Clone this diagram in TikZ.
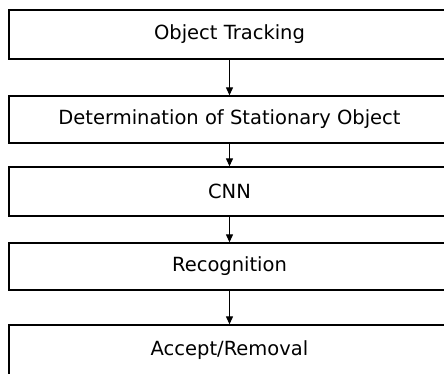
\documentclass[tikz,border=0pt]{standalone}
\usepackage{fontspec}
\setmainfont{DejaVu Sans}
\usetikzlibrary{arrows.meta}
\begin{document}
\begin{tikzpicture}
  [x=1pt, y=1pt,
  stage/.style={rectangle, draw, line width=1.3pt, minimum width=441pt,
    inner sep=0pt, font=\fontsize{19.5}{23}\selectfont},
  flow/.style={-{Triangle[length=8pt,width=7pt]}, line width=1.1pt}]

  \useasboundingbox (0,0) rectangle (444,374);

  % the five stages, top to bottom
  \node[stage, minimum height=49pt] (track) at (229.5,339.5) {Object Tracking};
  \node[stage, minimum height=47pt] (still) at (229.5,254.5) {Determination of Stationary Object};
  \node[stage, minimum height=49pt] (cnn)   at (229.5,182.5) {CNN};
  \node[stage, minimum height=47pt] (recog) at (229.5,107.5) {Recognition};
  \node[stage, minimum height=50pt] (decide) at (229.5,24) {Accept/Removal};

  % arrows between stages
  \draw[flow] (track) -- (still);
  \draw[flow] (still) -- (cnn);
  \draw[flow] (cnn) -- (recog);
  \draw[flow] (recog) -- (decide);
\end{tikzpicture}
\end{document}
